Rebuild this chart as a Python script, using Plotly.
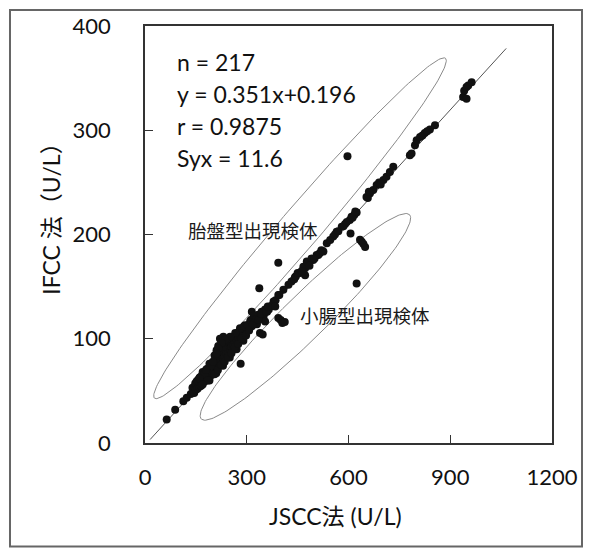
import numpy as np
import plotly.graph_objects as go

# ---- data ----
jscc = [
    64, 89, 113, 123,
    135, 140, 145, 148, 150, 152, 155, 158, 160, 162, 165, 168, 170, 172, 175, 178,
    180, 182, 185, 188, 190, 192, 195, 198, 200, 202, 205, 208, 210, 212, 215, 218,
    220, 222, 225, 228, 230, 232, 235, 238, 240, 242, 245, 248, 250, 252, 255, 258,
    260, 262, 265, 268, 270, 272, 275, 278, 280, 282, 285, 288, 290, 295, 300,
    190, 210, 230, 250, 270, 290, 170, 190, 210, 230,
    205, 211, 216, 221, 226, 231,
    295, 280, 266, 251, 236, 226, 216, 211,
    310, 320, 334, 344, 354, 369, 379, 393, 408, 423, 432, 442, 457, 472, 482, 496, 511, 526,
    305, 315, 325, 330, 340, 350, 360, 365, 375, 385,
    393, 400, 405, 412, 354, 339, 384, 347, 315, 325,
    597, 393, 337, 624, 282, 639, 606, 634, 644, 649, 396,
    467, 472, 477, 491, 506, 536, 546, 555, 565, 580, 590, 604, 609, 617, 624,
    653, 663, 673, 683, 693, 703, 712, 722, 732,
    560, 570, 585, 595, 612, 620, 657, 660, 690, 695,
    440, 445, 450, 462, 485, 500, 515, 520,
    781, 786, 796, 801, 811, 825, 840, 855, 818, 832,
    938, 941, 948, 953, 963, 948,
    155, 165, 175, 185, 195, 205, 160, 170, 180, 200, 215, 225, 235, 245, 255,
    265, 275, 285, 292, 298, 303, 307, 312, 318, 322, 328, 335, 342, 357, 362,
]
ifcc = [
    22.5, 32, 40, 43.5,
    47, 53, 48, 57, 51, 59, 52, 61, 54, 63, 55, 65, 57, 67, 59, 69,
    60, 71, 62, 72, 63, 74, 65, 75, 67, 75, 71, 76, 73, 79, 75, 80,
    77, 84, 79, 85, 81, 88, 83, 90, 86, 93, 87, 95, 90, 97, 92, 99,
    94, 100, 96, 103, 99, 105, 101, 106, 103, 108, 104, 110, 106, 109, 108,
    60, 67, 74, 82, 90, 98, 68, 76, 84, 92,
    84, 89, 93, 100, 97, 102,
    113, 110, 105.5, 102, 99, 96, 91, 86,
    116.6, 119.8, 123, 126, 128, 131, 135.7, 142, 147, 151.7, 154.8, 159, 163, 167.7, 172.5, 175.6, 180.4, 183.6,
    110, 112, 117, 114, 120, 122, 126, 128, 132, 137,
    120, 118, 115, 116, 116.6, 105.5, 131, 104, 126, 121,
    275, 173, 148.5, 153, 76, 193, 201, 195, 191, 188, 142,
    169, 161, 174, 177, 180.4, 191.6, 194.7, 198, 202.7, 207.5, 210, 214, 217, 218.7, 221,
    236, 239.4, 242.6, 247.4, 249, 252.2, 255.3, 260, 265,
    200, 203, 208, 212, 216, 222, 235, 241, 250, 248,
    157, 160, 163, 165, 170, 177, 182, 185,
    276, 277.7, 285.7, 290.5, 293.6, 297.4, 300.7, 304.8, 295, 299,
    332, 338, 341.5, 343, 346, 330.3,
    60, 55, 66, 60, 74, 66, 62, 56, 70, 78, 70, 75, 78, 82, 86,
    92, 95, 100, 112, 103, 113, 108, 118, 114, 122, 119, 118, 124, 126, 131,
]

# regression line as drawn in the picture
line_x = [15, 1065]
line_y = [3.3, 378.5]

x_ticks = [0, 300, 600, 900, 1200]
y_ticks = [0, 100, 200, 300, 400]

stats_lines = ["n = 217", "y = 0.351x+0.196", "r = 0.9875", "Syx = 11.6"]

# ellipse annotations: centre, half major axis vector, half minor axis vector (data units)
upper_center, upper_major, upper_minor = (457, 206), (429, 163), (45, -12.5)
lower_center, lower_major, lower_minor = (473, 121), (307, 98), (45, -15)

LATIN = "Lato, 'Noto Sans CJK JP', sans-serif"
CJK = "'Noto Sans CJK JP', sans-serif"


def ellipse(c, a, b, n=200):
    t = np.linspace(0, 2 * np.pi, n)
    return (c[0] + a[0] * np.cos(t) + b[0] * np.sin(t),
            c[1] + a[1] * np.cos(t) + b[1] * np.sin(t))


fig = go.Figure()

for c, a, b in [(upper_center, upper_major, upper_minor), (lower_center, lower_major, lower_minor)]:
    ex, ey = ellipse(c, a, b)
    fig.add_trace(go.Scatter(x=ex, y=ey, mode="lines", line=dict(color="#8a8a8a", width=1),
                             hoverinfo="skip", showlegend=False))

fig.add_trace(go.Scatter(x=line_x, y=line_y, mode="lines", line=dict(color="#555555", width=1),
                         hoverinfo="skip", showlegend=False))

fig.add_trace(go.Scatter(x=jscc, y=ifcc, mode="markers",
                         marker=dict(color="#111111", size=8, line=dict(width=0)),
                         showlegend=False))

axis_common = dict(showgrid=False, zeroline=False, showline=True, linecolor="#333333", linewidth=1.5,
                   mirror=True, ticks="inside", ticklen=8, tickcolor="#333333", tickwidth=1,
                   tickfont=dict(family=LATIN, size=22, color="#111111"))

fig.update_xaxes(range=[0, 1200], tickvals=x_ticks, ticklabelstandoff=14, **axis_common)
fig.update_yaxes(range=[0, 400], tickvals=y_ticks, ticklabelstandoff=28, **axis_common)

ann = []
for i, s in enumerate(stats_lines):
    ann.append(dict(x=0.074, y=0.9145 - i * 0.0772, xref="paper", yref="paper", text=s,
                    showarrow=False, xanchor="left", yanchor="middle",
                    font=dict(family=LATIN, size=23, color="#111111")))
ann.append(dict(x=0.2654, y=0.5114, xref="paper", yref="paper", text="胎盤型出現検体", showarrow=False,
                xanchor="center", yanchor="middle",
                font=dict(family=CJK, size=18.5, color="#1a1a1a")))
ann.append(dict(x=0.5405, y=0.3078, xref="paper", yref="paper", text="小腸型出現検体", showarrow=False,
                xanchor="center", yanchor="middle",
                font=dict(family=CJK, size=18.5, color="#1a1a1a")))
ann.append(dict(x=-0.231, y=0.552, xref="paper", yref="paper", text="IFCC 法（U/L）", showarrow=False,
                xanchor="center", yanchor="middle",
                textangle=-90, font=dict(family=LATIN, size=23, color="#111111")))
ann.append(dict(x=0.469, y=-0.176, xref="paper", yref="paper", text="JSCC法 (U/L)", showarrow=False,
                xanchor="center", yanchor="middle",
                font=dict(family=LATIN, size=23, color="#111111")))

fig.update_layout(
    width=590, height=553,
    margin=dict(l=145, r=38, t=26, b=110),
    paper_bgcolor="white", plot_bgcolor="white",
    annotations=ann,
    shapes=[dict(type="rect", xref="paper", yref="paper", x0=-0.3317, x1=1.0737, y0=-0.248, y1=1.0383,
                 line=dict(color="#666666", width=2), layer="below")],
)

# remove the browser's default body margin so the figure sits at the window's top-left corner
fig.write_html("out.html", config={"displayModeBar": False},
               post_script="document.body.style.margin='0';")
